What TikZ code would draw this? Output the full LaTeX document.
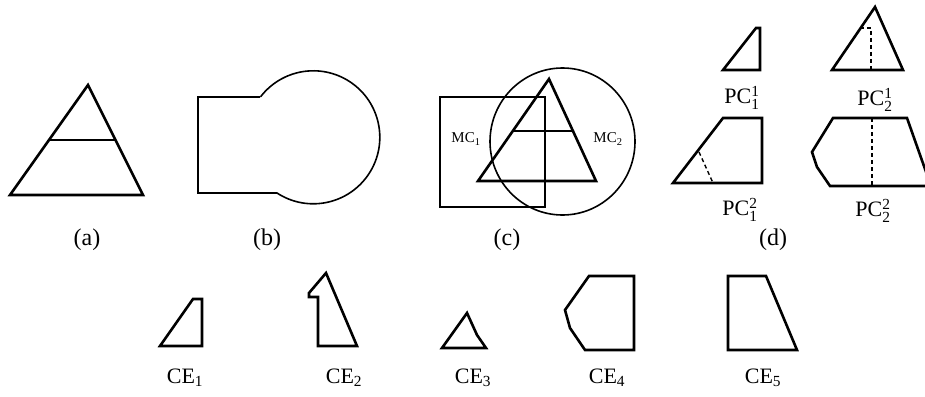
\documentclass[tikz,border=0pt]{standalone}
\usepackage{amsmath}
\usepackage{fontspec}
\setmainfont{Liberation Serif}
\begin{document}
\begin{tikzpicture}[x=1pt,y=-1pt,
  thickline/.style={line width=2.6pt,line join=miter,line cap=round},
  thinline/.style={line width=1.6pt},
  dashline/.style={line width=1.4pt,dash pattern=on 4pt off 3pt},
  lbl/.style={font=\fontsize{24}{28}\selectfont,inner sep=0pt},
  sublbl/.style={font=\fontsize{22}{26}\selectfont,inner sep=0pt}]
\useasboundingbox (0,0) rectangle (925,396);
\clip (0,0) rectangle (925,396);
% (a)
\draw[thickline] (88,85) -- (143,195) -- (10,195) -- cycle;
\draw[thickline] (49,140) -- (115,140);
\node[lbl] (la) at (87,240) {(a)};
% (b)
\draw[thinline] (260,97) -- (198,97) -- (198,193) -- (277,193)
  arc[start angle=123.1, end angle=-142.4, radius=66.5];
\node[lbl] (lb) at (267,240) {(b)};
% (c)
\draw[thinline] (440,97) rectangle (545,207);
\draw[thinline] (562.5,141.5) ellipse[x radius=72.5,y radius=73.5];
\draw[thickline] (549,79) -- (596,181) -- (478,181) -- cycle;
\draw[thickline] (514,131) -- (573,131);
\node[inner sep=0pt,font=\fontsize{15}{17}\selectfont] (mc1) at (466,139) {MC\textsubscript{1}};
\node[inner sep=0pt,font=\fontsize{15}{17}\selectfont] (mc2) at (608,139) {MC\textsubscript{2}};
\node[lbl] (lc) at (507,240) {(c)};
% (d)
\draw[thickline] (723,70) -- (756,28) -- (760,28) -- (760,70) -- cycle;
\node[sublbl] (pc11) at (742,98) {PC$^{\text{1}}_{\text{1}}$};
\draw[thickline] (875,7) -- (903,70) -- (832,70) -- cycle;
\draw[dashline] (860,28) -- (871,28) -- (871,70);
\node[sublbl] (pc21) at (875,100) {PC$^{\text{1}}_{\text{2}}$};
\draw[thickline] (673,183) -- (723,118) -- (762,118) -- (762,183) -- cycle;
\draw[dashline] (699,152) -- (713,183);
\node[sublbl] (pc12) at (740,210) {PC$^{\text{2}}_{\text{1}}$};
\draw[thickline] (931,186) -- (830,186) -- (817,167) -- (812,152) -- (833,118) -- (907,118) -- (931,186);
\draw[dashline] (872,118) -- (872,186);
\node[sublbl] (pc22) at (873,211) {PC$^{\text{2}}_{\text{2}}$};
\node[lbl] (ld) at (773,240) {(d)};
% bottom row
\draw[thickline] (160,346) -- (193,299) -- (202,299) -- (202,346) -- cycle;
\node[sublbl] (ce1) at (185,378) {CE\textsubscript{1}};
\draw[thickline] (318,346) -- (318,297) -- (309,297) -- (309,293) -- (326,273) -- (357,346) -- cycle;
\node[sublbl] (ce2) at (344,378) {CE\textsubscript{2}};
\draw[thickline] (442,348) -- (467,313) -- (477,335) -- (486,348) -- cycle;
\node[sublbl] (ce3) at (473,378) {CE\textsubscript{3}};
\draw[thickline] (589,276) -- (634,276) -- (634,350) -- (585,350) -- (570,328) -- (565,310) -- cycle;
\node[sublbl] (ce4) at (607,378) {CE\textsubscript{4}};
\draw[thickline] (728,276) -- (766,276) -- (797,350) -- (728,350) -- cycle;
\node[sublbl] (ce5) at (763,378) {CE\textsubscript{5}};
\end{tikzpicture}
\end{document}
